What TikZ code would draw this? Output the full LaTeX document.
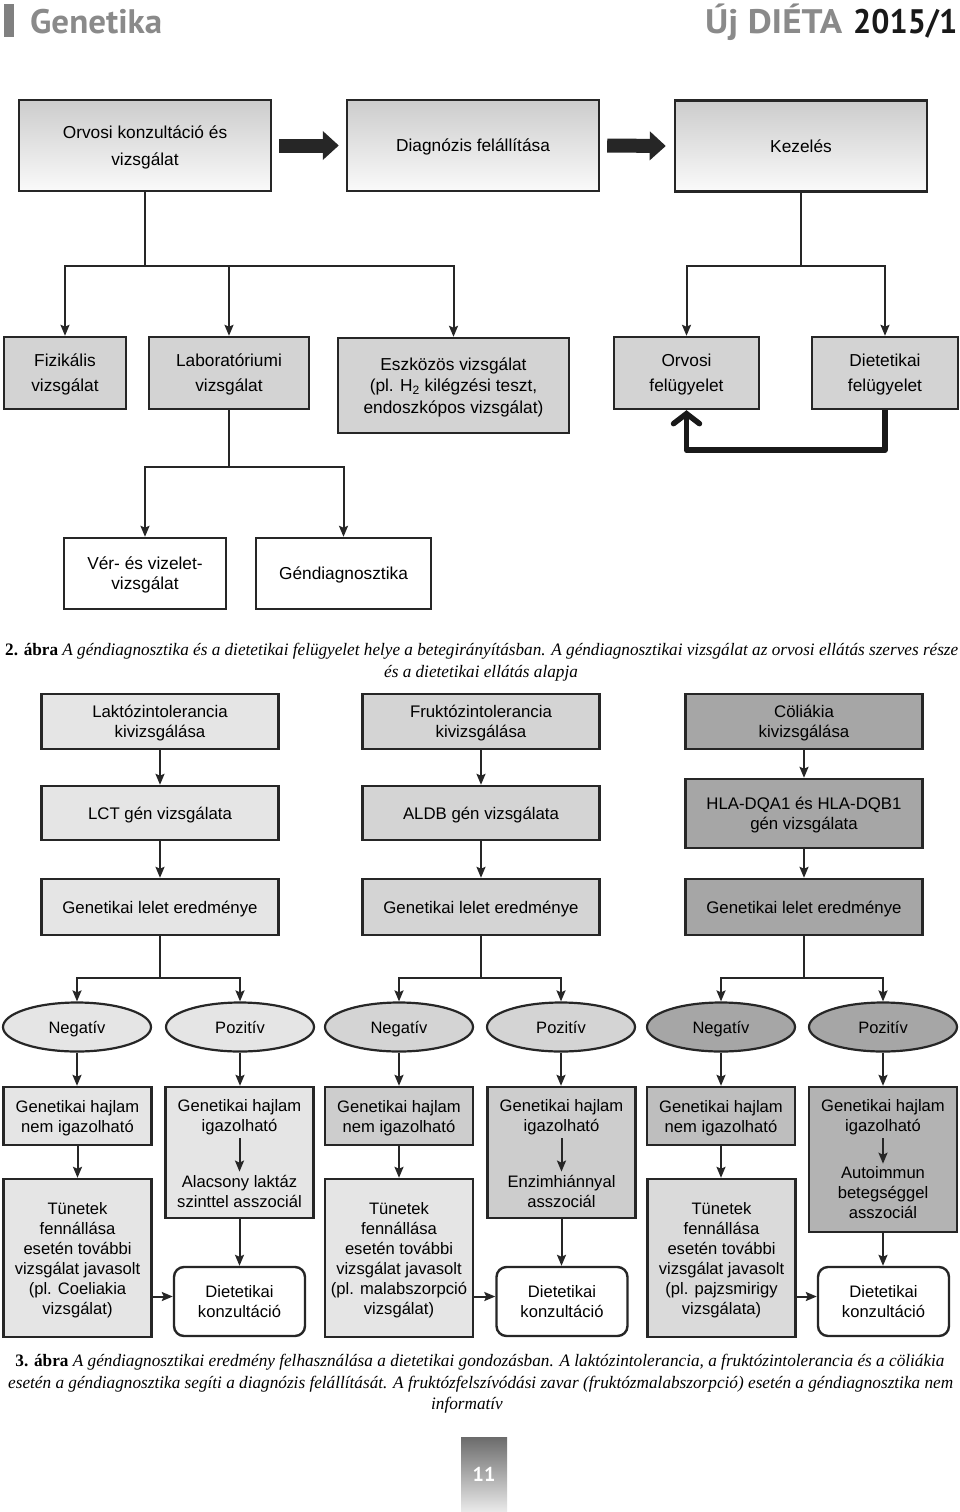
\documentclass[tikz,border=0pt]{standalone}
\usepackage{fontspec}
\setmainfont{Liberation Sans}
\newfontfamily\capfont{Liberation Serif}
\newfontfamily\headfont{PT Sans}
\usetikzlibrary{arrows.meta,shapes.geometric,calc}
\definecolor{ln}{HTML}{262626}
\definecolor{gmid}{HTML}{D3D3D3}
\definecolor{cA}{HTML}{E5E5E5}
\definecolor{cB}{HTML}{D4D4D4}
\definecolor{cC}{HTML}{A6A6A6}
\definecolor{gB}{HTML}{CDCDCD}
\definecolor{gC}{HTML}{BEBEBE}
\definecolor{gD}{HTML}{B3B3B3}
\definecolor{hgray}{HTML}{8A8A8A}
\newsavebox\capboxa
\newsavebox\capboxb
\newdimen\capdim
\newcommand\capstyle{\capfont\fontsize{17.5}{22}\selectfont}
\begin{document}
\sbox\capboxa{\capstyle\textbf{2. ábra} \textit{A géndiagnosztika és a dietetikai felügyelet helye a betegirányításban. A géndiagnosztikai vizsgálat az orvosi ellátás szerves része}}%
\capdim=\wd\capboxa
\pgfmathsetmacro\capfa{953/\capdim}%
\sbox\capboxb{\capstyle\itshape esetén a géndiagnosztika segíti a diagnózis felállítását. A fruktózfelszívódási zavar (fruktózmalabszorpció) esetén a géndiagnosztika nem}%
\capdim=\wd\capboxb
\pgfmathsetmacro\capfb{945/\capdim}%
\begin{tikzpicture}[x=1pt,y=-1pt,
  bx/.style={draw=ln, line width=2.4pt, inner sep=0pt, align=center},
  topbox/.style={bx, minimum width=252pt, minimum height=91pt, top color=black!20, bottom color=white!98!black, font=\fontsize{17.3}{27}\selectfont},
  midbox/.style={bx, fill=gmid, minimum height=72pt, text depth=-4pt, font=\fontsize{17.3}{25}\selectfont},
  whbox/.style={bx, fill=white, minimum height=71pt, font=\fontsize{17.3}{20}\selectfont},
  upbox/.style={bx, minimum width=237pt, text depth=0pt, font=\fontsize{16.8}{20.5}\selectfont},
  ell/.style={draw=ln, line width=2.2pt, ellipse, minimum width=148pt, minimum height=49pt, inner sep=0pt, text height=12pt, text depth=0pt, font=\fontsize{16.5}{20}\selectfont},
  lowbox/.style={bx, minimum width=148pt, text depth=0pt, font=\fontsize{16.6}{20}\selectfont},
  dietbox/.style={bx, fill=white, rounded corners=10pt, minimum width=131pt, minimum height=69pt, font=\fontsize{16.6}{20}\selectfont},
  txt/.style={inner sep=3pt, align=center, font=\fontsize{16.6}{20}\selectfont},
  ln2/.style={draw=ln, line width=2pt},
  arr/.style={draw=ln, line width=2pt, -{Stealth[length=11pt,width=9pt,inset=2pt]}},
  blk/.style={draw=ln, line width=14pt, -{Triangle[length=16pt,width=28pt]}},
  fbarr/.style={draw=black!90, line width=5.5pt, line join=round, -{Straight Barb[length=10pt,width=26pt,line cap=round]}}
]
\useasboundingbox (0,0) rectangle (960,1512);
\fill[white] (0,0) rectangle (960,1512);

% ---------- header ----------
\node[fill=black!50, minimum width=10pt, minimum height=33pt, inner sep=0pt] (bar) at (9,21) {};
\node[anchor=base west, inner sep=0pt, text=hgray] (hd1) at (30,34)
  {\resizebox{132pt}{\height}{\headfont\bfseries\fontsize{34}{34}\selectfont Genetika}};
\node[anchor=base west, inner sep=0pt, text=hgray] (hd2) at (705,34)
  {\resizebox{137pt}{\height}{\headfont\bfseries\fontsize{34}{34}\selectfont Új DIÉTA}};
\node[anchor=base west, inner sep=0pt, text=black!90] (hd3) at (853,34)
  {\resizebox{104pt}{\height}{\headfont\bfseries\fontsize{34}{34}\selectfont 2015/1}};

% ---------- figure 2 ----------
\node[topbox, text depth=-6pt] (b1) at (145,145.5) {Orvosi konzultáció és\\vizsgálat};
\node[topbox, text depth=0pt] (b2) at (473,145.5) {Diagnózis felállítása};
\node[topbox, text depth=-5pt] (b3) at (801,146) {Kezelés};
\draw[blk] ([xshift=7pt]b1.east) -- ([xshift=-7pt]b2.west);
\draw[blk] ([xshift=7pt]b2.east) -- ([xshift=-8pt]b3.west);

\node[midbox, minimum width=122pt] (fiz) at (65,373) {Fizikális\\vizsgálat};
\node[midbox, minimum width=160pt] (lab) at (229,373) {Laboratóriumi\\vizsgálat};
\node[midbox, minimum width=231pt, minimum height=95pt, text depth=-6pt, font=\fontsize{17.3}{21.5}\selectfont] (esz) at (453.5,385.5)
  {Eszközös vizsgálat\\(pl. H\textsubscript{2} kilégzési teszt,\\endoszkópos vizsgálat)};
\node[midbox, minimum width=145pt] (orv) at (686.5,373) {Orvosi\\felügyelet};
\node[midbox, minimum width=146pt] (diet) at (885,373) {Dietetikai\\felügyelet};

\coordinate (j1) at ($(b1.south)+(0,74)$);
\draw[ln2] (b1.south) -- (j1);
\draw[arr] (j1) -| (fiz.north);
\draw[arr] (j1) -| (lab.north);
\draw[arr] (j1) -| (esz.north);

\coordinate (j3) at ($(b3.south)+(0,73)$);
\draw[ln2] (b3.south) -- (j3);
\draw[arr] (j3) -| (orv.north);
\draw[arr] (j3) -| (diet.north);

\coordinate (fb) at ($(diet.south)+(0,40)$);
\draw[fbarr] (diet.south) -- (fb) -| (orv.south);

\node[whbox, minimum width=162pt, text depth=0pt] (ver) at (145,573.5) {Vér- és vizelet-\\vizsgálat};
\node[whbox, minimum width=175pt, text depth=-4pt] (gen) at (343.5,573.5) {Géndiagnosztika};
\coordinate (j2) at ($(lab.south)+(0,57)$);
\draw[ln2] (lab.south) -- (j2);
\draw[arr] (j2) -| (ver.north);
\draw[arr] (j2) -| (gen.north);

% caption 2
\node[anchor=base west, inner sep=0pt] (cap2a) at (5,655) {\scalebox{\capfa}[1]{\usebox\capboxa}};
\node[anchor=base, inner sep=0pt] (cap2b) at (481,677) {\scalebox{\capfa}[1]{\capstyle\itshape és a dietetikai ellátás alapja}};

% ---------- figure 3 ----------
\node[upbox, fill=cA, minimum height=55pt] (la) at (160,721.5) {Laktózintolerancia\\kivizsgálása};
\node[upbox, fill=cB, minimum height=55pt] (fa) at (481,721.5) {Fruktózintolerancia\\kivizsgálása};
\node[upbox, fill=cC, minimum height=55pt] (ca) at (804,721.5) {Cöliákia\\kivizsgálása};
\node[upbox, fill=cA, minimum height=54pt] (lb) at (160,813) {LCT gén vizsgálata};
\node[upbox, fill=cB, minimum height=54pt] (fbx) at (481,813) {ALDB gén vizsgálata};
\node[upbox, fill=cC, minimum height=69pt] (cb) at (804,813.5) {HLA-DQA1 és HLA-DQB1\\gén vizsgálata};
\node[upbox, fill=cA, minimum height=56pt] (lc) at (160,907) {Genetikai lelet eredménye};
\node[upbox, fill=cB, minimum height=56pt] (fc) at (481,907) {Genetikai lelet eredménye};
\node[upbox, fill=cC, minimum height=56pt] (cc) at (804,907) {Genetikai lelet eredménye};
\draw[arr] (la) -- (lb);
\draw[arr] (fa) -- (fbx);
\draw[arr] (ca) -- (cb);
\draw[arr] (lb) -- (lc);
\draw[arr] (fbx) -- (fc);
\draw[arr] (cb) -- (cc);

\node[ell, fill=cA] (e1) at (77,1027) {Negatív};
\node[ell, fill=cA] (e2) at (240,1027) {Pozitív};
\node[ell, fill=cB] (e3) at (399,1027) {Negatív};
\node[ell, fill=cB] (e4) at (561,1027) {Pozitív};
\node[ell, fill=cC] (e5) at (721,1027) {Negatív};
\node[ell, fill=cC] (e6) at (883,1027) {Pozitív};

\coordinate (k1) at ($(lc.south)+(0,42)$);
\coordinate (k2) at ($(fc.south)+(0,42)$);
\coordinate (k3) at ($(cc.south)+(0,42)$);
\draw[ln2] (lc.south) -- (k1);
\draw[ln2] (fc.south) -- (k2);
\draw[ln2] (cc.south) -- (k3);
\draw[arr] (k1) -| (e1.north);
\draw[arr] (k1) -| (e2.north);
\draw[arr] (k2) -| (e3.north);
\draw[arr] (k2) -| (e4.north);
\draw[arr] (k3) -| (e5.north);
\draw[arr] (k3) -| (e6.north);

% genetic predisposition boxes
\node[lowbox, fill=cA, minimum height=58pt] (g1) at (77.5,1116) {Genetikai hajlam\\nem igazolható};
\node[lowbox, fill=cA, minimum height=131pt] (g2) at (239.5,1152.5) {};
\node[lowbox, fill=gB, minimum height=58pt] (g3) at (399,1116) {Genetikai hajlam\\nem igazolható};
\node[lowbox, fill=gB, minimum height=131pt] (g4) at (561.5,1152.5) {};
\node[lowbox, fill=gC, minimum height=58pt] (g5) at (721,1116) {Genetikai hajlam\\nem igazolható};
\node[lowbox, fill=gD, minimum height=145pt] (g6) at (883,1159.5) {};

\node[txt] (g2a) at (239.5,1117.5) {Genetikai hajlam\\igazolható};
\node[txt] (g2b) at (239.5,1191) {Alacsony laktáz\\szinttel asszociál};
\draw[arr] (g2a) -- (g2b);
\node[txt] (g4a) at (561.5,1117.5) {Genetikai hajlam\\igazolható};
\node[txt] (g4b) at (561.5,1191) {Enzimhiánnyal\\asszociál};
\draw[arr] (g4a) -- (g4b);
\node[txt] (g6a) at (883,1117.5) {Genetikai hajlam\\igazolható};
\node[txt] (g6b) at (883,1193) {Autoimmun\\betegséggel\\asszociál};
\draw[arr] (g6a) -- (g6b);

\foreach \e/\g in {e1/g1,e2/g2,e3/g3,e4/g4,e5/g5,e6/g6}
  \draw[arr] (\e.south) -- (\e.south |- \g.north);

% symptom boxes
\node[lowbox, fill=cA, minimum height=158pt, text depth=-7.5pt] (t1) at (77.5,1258) {Tünetek\\fennállása\\esetén további\\vizsgálat javasolt\\(pl. Coeliakia\\vizsgálat)};
\node[lowbox, fill=cA, minimum height=158pt] (t3) at (399,1258) {Tünetek\\fennállása\\esetén további\\vizsgálat javasolt\\(pl. malabszorpció\\vizsgálat)};
\node[lowbox, fill=cA!95!black, minimum height=158pt] (t5) at (721.5,1258) {Tünetek\\fennállása\\esetén további\\vizsgálat javasolt\\(pl. pajzsmirigy\\vizsgálata)};
\draw[arr] (g1.south) -- (g1.south |- t1.north);
\draw[arr] (g3.south) -- (g3.south |- t3.north);
\draw[arr] (g5.south) -- (g5.south |- t5.north);

% dietetic consultation
\node[dietbox] (d2) at (239.5,1301.5) {Dietetikai\\konzultáció};
\node[dietbox] (d4) at (562,1301.5) {Dietetikai\\konzultáció};
\node[dietbox] (d6) at (883.5,1301.5) {Dietetikai\\konzultáció};
\draw[arr] (g2.south) -- (g2.south |- d2.north);
\draw[arr] (g4.south) -- (g4.south |- d4.north);
\draw[arr] (g6.south) -- (g6.south |- d6.north);
\draw[arr] (t1.east |- {$(d2.west)+(0,-5)$}) -- ($(d2.west)+(0,-5)$);
\draw[arr] (t3.east |- {$(d4.west)+(0,-5)$}) -- ($(d4.west)+(0,-5)$);
\draw[arr] (t5.east |- {$(d6.west)+(0,-5)$}) -- ($(d6.west)+(0,-5)$);

% caption 3
\node[anchor=base, inner sep=0pt] (cap3a) at (480,1366) {\scalebox{\capfb}[1]{\capstyle\textbf{3. ábra} \textit{A géndiagnosztikai eredmény felhasználása a dietetikai gondozásban. A laktózintolerancia, a fruktózintolerancia és a cöliákia}}};
\node[anchor=base west, inner sep=0pt] (cap3b) at (8,1388) {\scalebox{\capfb}[1]{\usebox\capboxb}};
\node[anchor=base, inner sep=0pt] (cap3c) at (467,1409) {\scalebox{\capfb}[1]{\capstyle\itshape informatív}};

% page number
\node[minimum width=46pt, minimum height=75pt, inner sep=0pt, top color=black!58, bottom color=black!8] (pgbox) at (484,1474.5) {};
\node[text=white, font=\headfont\bfseries\fontsize{20}{20}\selectfont] (pgnum) at (484,1474) {11};
\end{tikzpicture}
\end{document}
